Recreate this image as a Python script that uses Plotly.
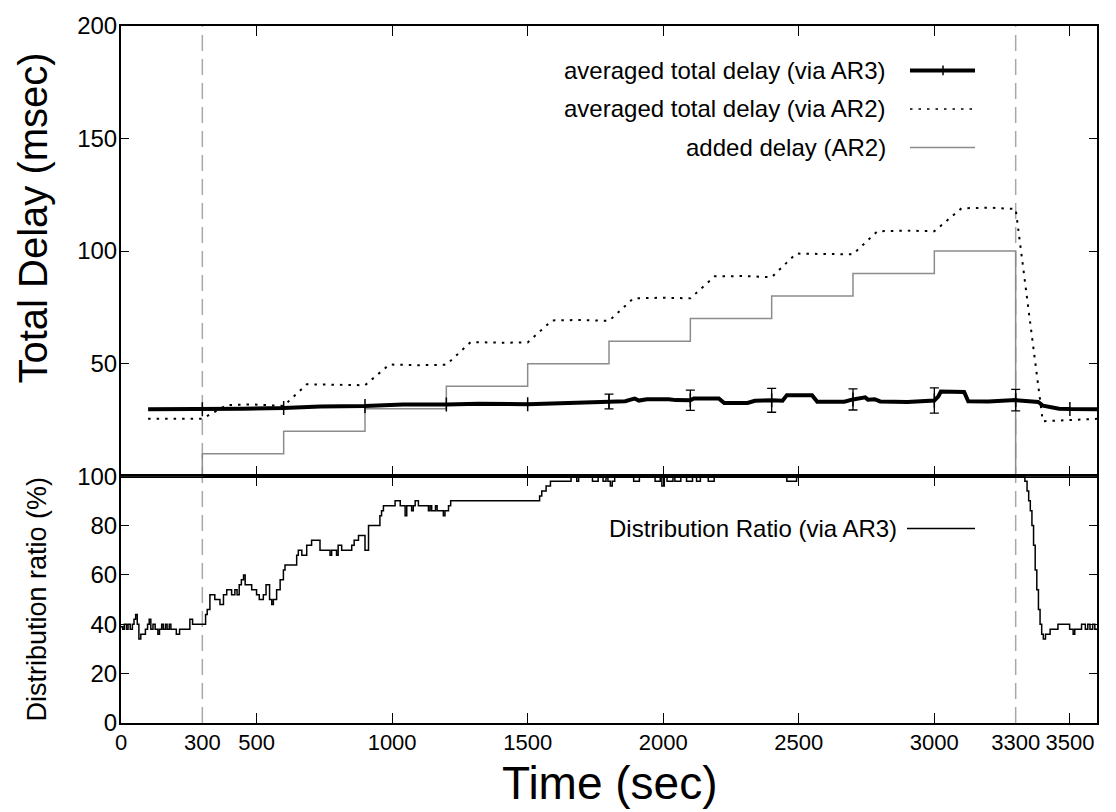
import plotly.graph_objects as go

# ---------------- data ----------------
# time axis (sec)
x_tick_marks = [500, 1000, 1500, 2000, 2500, 3000, 3500]
x_tick_labels = [0, 300, 500, 1000, 1500, 2000, 2500, 3000, 3300, 3500]
phase_times = [300, 3300]

# averaged total delay via AR3 (msec)
ar3_t = [100, 300, 450, 600, 735, 900, 1040, 1200, 1320, 1500, 1615, 1700, 1800, 1860,
         1880, 1895, 1910, 1940, 2020, 2047, 2100, 2113, 2205, 2225, 2311, 2338, 2400,
         2440, 2456, 2549, 2568, 2668, 2700, 2730, 2745, 2755, 2780, 2800, 2900, 3000,
         3015, 3024, 3110, 3125, 3200, 3300, 3383, 3401, 3430, 3460, 3500, 3600]
ar3_v = [29.7, 29.7, 30.0, 30.3, 31.0, 31.2, 31.9, 31.9, 32.2, 32.0, 32.5, 32.6, 33.2, 33.3,
         34.0, 34.5, 33.6, 34.2, 34.2, 33.8, 33.7, 34.5, 34.5, 32.5, 32.5, 33.5, 33.7,
         33.5, 36.0, 36.0, 33.1, 33.1, 34.1, 34.5, 35.0, 34.0, 34.2, 33.2, 33.0, 33.6,
         35.5, 37.6, 37.4, 33.3, 33.2, 33.8, 33.0, 31.3, 30.6, 30.0, 29.8, 29.7]
ar3_marker_t = [300, 600, 900, 1200, 1500, 1800, 2100, 2400, 2700, 3000, 3300, 3500]
ar3_err_t = [1800, 2100, 2400, 2700, 3000, 3300]
ar3_err = [3.3, 4.5, 5.3, 4.7, 5.6, 4.8]

# averaged total delay via AR2 (msec)
ar2_t = [100, 300, 390, 480, 600, 685, 800, 900, 990, 1100, 1200, 1290, 1400, 1500,
         1590, 1700, 1800, 1890, 2000, 2100, 2190, 2300, 2400, 2490, 2600, 2700,
         2790, 2900, 3000, 3100, 3200, 3300, 3400, 3600]
ar2_v = [25.5, 25.5, 31.6, 31.9, 31.2, 40.8, 40.6, 40.4, 49.6, 49.3, 49.5, 59.6, 59.3, 59.4,
         69.2, 69.4, 69.0, 79.0, 79.3, 79.0, 88.8, 88.9, 88.4, 98.9, 98.7, 98.6,
         108.8, 109.1, 108.8, 119.0, 119.3, 118.7, 24.4, 25.5]

# added delay on AR2 (msec), stepwise
added_t = [0, 300, 600, 900, 1200, 1500, 1800, 2100, 2400, 2700, 3000, 3300, 3600]
added_v = [0, 10, 20, 30, 40, 50, 60, 70, 80, 90, 100, 0, 0]

# distribution ratio via AR3 (%), stepwise
dist_t = [0, 6, 12, 20, 26, 34, 42, 48, 54, 60, 66, 73, 90, 98, 104, 110, 118, 126,
          136, 142, 150, 156, 164, 170, 178, 184, 204, 216, 254, 264, 312, 318, 328,
          346, 365, 378, 390, 408, 420, 428, 436, 444, 452, 458, 482, 500, 510, 525,
          535, 548, 556, 562, 574, 587, 599, 605, 611, 620, 630, 648, 654, 667, 685,
          703, 734, 771, 777, 795, 801, 814, 851, 860, 876, 894, 900, 913, 955, 961,
          968, 974, 1011, 1030, 1048, 1054, 1060, 1072, 1078, 1085, 1097, 1134, 1140,
          1146, 1160, 1166, 1189, 1195, 1208, 1216, 1544, 1552, 1568, 1584, 1660, 1681,
          1688, 1739, 1760, 1778, 1789, 1796, 1805, 1812, 1821, 1891, 1912, 1970, 1989,
          1995, 2004, 2014, 2036, 2043, 2065, 2086, 2108, 2123, 2137, 2166, 2188, 2456,
          2492, 3334, 3342, 3348, 3354, 3360, 3366, 3372, 3378, 3384, 3390, 3396, 3402,
          3410, 3427, 3456, 3499, 3512, 3518, 3543, 3557, 3566, 3574, 3584, 3592, 3600]
dist_v = [39, 38, 40, 38, 40, 38, 40, 42, 44, 40, 34, 36, 38, 40, 42, 38, 40, 38,
          36, 38, 40, 38, 40, 38, 40, 38, 36, 38, 42, 40, 44, 46, 52,
          50, 48, 52, 54, 52, 54, 52, 56, 58, 60, 56, 54, 52, 50, 52,
          56, 50, 48, 50, 54, 58, 62, 64, 64, 64, 64, 68, 70, 68, 72,
          74, 70, 68, 70, 68, 72, 70, 72, 74, 76, 76, 70, 80, 84, 86,
          88, 88, 90, 88, 84, 88, 88, 86, 88, 90, 88, 86, 88,
          86, 88, 86, 84, 86, 88, 90, 92, 94, 96, 98, 100, 98,
          100, 98, 100, 98, 100, 98, 96, 98, 100, 98, 100, 98, 100,
          96, 100, 98, 100, 98, 100, 98, 100, 98, 100, 98, 100, 98,
          100, 98, 94, 90, 86, 80, 72, 62, 54, 46, 40, 36, 34,
          36, 38, 40, 38, 36, 38, 40, 38, 40, 38, 40, 38, 38]

# ---------------- layout geometry ----------------
W, H = 1116, 812
ML, MR, MT, MB = 121, 19, 17, 89
PW = W - ML - MR
PH = H - MT - MB


def px(x):
    return (x - ML) / PW


def py(y):
    return (H - MB - y) / PH


SPLIT = py(473)
FONT = "Liberation Sans, Arial, Helvetica, sans-serif"
BLACK = "#000000"
GRAY = "#8c8c8c"
DASHGRAY = "#a8a8a8"

ar3_lookup = dict(zip(ar3_t, ar3_v))

fig = go.Figure()

# added delay (AR2)
fig.add_trace(go.Scatter(x=added_t, y=added_v, mode="lines", line_shape="hv",
                         line=dict(color=GRAY, width=1.5), xaxis="x", yaxis="y",
                         showlegend=False, hoverinfo="skip"))
# averaged total delay via AR2
fig.add_trace(go.Scatter(x=ar2_t, y=ar2_v, mode="lines",
                         line=dict(color=BLACK, width=2, dash="2.5px,6px"),
                         xaxis="x", yaxis="y", showlegend=False))
# averaged total delay via AR3
fig.add_trace(go.Scatter(x=ar3_t, y=ar3_v, mode="lines",
                         line=dict(color=BLACK, width=4), xaxis="x", yaxis="y",
                         showlegend=False))
fig.add_trace(go.Scatter(x=ar3_marker_t, y=[ar3_lookup[t] for t in ar3_marker_t],
                         mode="markers",
                         marker=dict(symbol="line-ns", size=10,
                                     line=dict(color=BLACK, width=1.5)),
                         xaxis="x", yaxis="y", showlegend=False))
fig.add_trace(go.Scatter(x=ar3_err_t, y=[ar3_lookup[t] for t in ar3_err_t],
                         mode="markers", marker=dict(size=1, color=BLACK, opacity=0),
                         error_y=dict(type="data", array=ar3_err, visible=True,
                                      color=BLACK, thickness=1.3, width=4.5),
                         xaxis="x", yaxis="y", showlegend=False))
# distribution ratio
fig.add_trace(go.Scatter(x=dist_t, y=dist_v, mode="lines", line_shape="hv",
                         line=dict(color=BLACK, width=1.5), xaxis="x2", yaxis="y2",
                         showlegend=False))
# carrier for the labelled time axis
fig.add_trace(go.Scatter(x=[0], y=[None], mode="lines", xaxis="x3", yaxis="y2",
                         showlegend=False, hoverinfo="skip"))

common_axis = dict(showline=True, linecolor=BLACK, linewidth=2, mirror="ticks",
                   ticks="inside", tickcolor=BLACK, tickwidth=1.3, showgrid=False,
                   zeroline=False, layer="below traces")

shapes = []
for t in phase_times:
    shapes.append(dict(type="line", xref="x", yref="paper", x0=t, x1=t, y0=0, y1=1,
                       line=dict(color=DASHGRAY, width=1.5, dash="16px,8px"),
                       layer="below"))

# legend keys
lx0, lx1 = px(910), px(975)
shapes += [
    dict(type="line", xref="paper", yref="paper", x0=lx0, x1=lx1, y0=py(62), y1=py(62),
         line=dict(color=BLACK, width=4)),
    dict(type="line", xref="paper", yref="paper", x0=px(943), x1=px(943),
         y0=py(57), y1=py(67), line=dict(color=BLACK, width=1.5)),
    dict(type="line", xref="paper", yref="paper", x0=lx0, x1=lx1, y0=py(101), y1=py(101),
         line=dict(color=BLACK, width=1.5, dash="2.5px,6px")),
    dict(type="line", xref="paper", yref="paper", x0=lx0, x1=lx1, y0=py(140), y1=py(140),
         line=dict(color=GRAY, width=1.5)),
    dict(type="line", xref="paper", yref="paper", x0=px(907), x1=lx1, y0=py(526),
         y1=py(526), line=dict(color=BLACK, width=1.5)),
]

annotations = []
for text, y in [("averaged total delay (via AR3)", 62),
                ("averaged total delay (via AR2)", 101),
                ("added delay (AR2)", 140)]:
    annotations.append(dict(text=text, xref="paper", yref="paper", x=px(888), y=py(y),
                            xanchor="right", yanchor="middle", showarrow=False,
                            font=dict(family=FONT, size=24, color=BLACK)))
annotations.append(dict(text="Distribution Ratio (via AR3)", xref="paper", yref="paper",
                        x=px(899), y=py(526), xanchor="right", yanchor="middle",
                        showarrow=False, font=dict(family=FONT, size=24, color=BLACK)))
# axis titles
annotations.append(dict(text="Total Delay (msec)", xref="paper", yref="paper",
                        x=px(33), y=py(212), textangle=-90, xanchor="center",
                        yanchor="middle", showarrow=False,
                        font=dict(family=FONT, size=40, color=BLACK)))
annotations.append(dict(text="Distribution ratio (%)", xref="paper", yref="paper",
                        x=px(37), y=py(598), textangle=-90, xanchor="center",
                        yanchor="middle", showarrow=False,
                        font=dict(family=FONT, size=27, color=BLACK)))
annotations.append(dict(text="Time (sec)", xref="paper", yref="paper",
                        x=px(610), y=py(784), xanchor="center", yanchor="middle",
                        showarrow=False, font=dict(family=FONT, size=46, color=BLACK)))

fig.update_layout(
    width=W, height=H,
    margin=dict(l=ML, r=MR, t=MT, b=MB, pad=0),
    paper_bgcolor="white", plot_bgcolor="white",
    showlegend=False,
    xaxis=dict(domain=[0, 1], anchor="y", range=[0, 3600], tickvals=x_tick_marks,
               ticklen=10, showticklabels=False, **common_axis),
    yaxis=dict(domain=[SPLIT, 1], anchor="x", range=[0, 200],
               tickvals=[50, 100, 150, 200], ticklen=8, ticklabelstandoff=-3,
               tickfont=dict(family=FONT, size=24, color=BLACK), **common_axis),
    xaxis2=dict(domain=[0, 1], anchor="y2", range=[0, 3600], tickvals=x_tick_marks,
                ticklen=10, showticklabels=False, **common_axis),
    xaxis3=dict(overlaying="x2", anchor="y2", side="bottom", range=[0, 3600],
                tickvals=x_tick_labels, ticktext=[str(v) for v in x_tick_labels],
                ticks="", showline=False, showgrid=False, zeroline=False,
                tickangle=0, ticklabelstandoff=4,
                tickfont=dict(family=FONT, size=22, color=BLACK)),
    yaxis2=dict(domain=[0, SPLIT], anchor="x2", range=[0, 100],
                tickvals=[0, 20, 40, 60, 80, 100], ticklen=8, ticklabelstandoff=-3,
                tickfont=dict(family=FONT, size=24, color=BLACK), **common_axis),
    shapes=shapes,
    annotations=annotations,
)

fig.write_html("out.html")
